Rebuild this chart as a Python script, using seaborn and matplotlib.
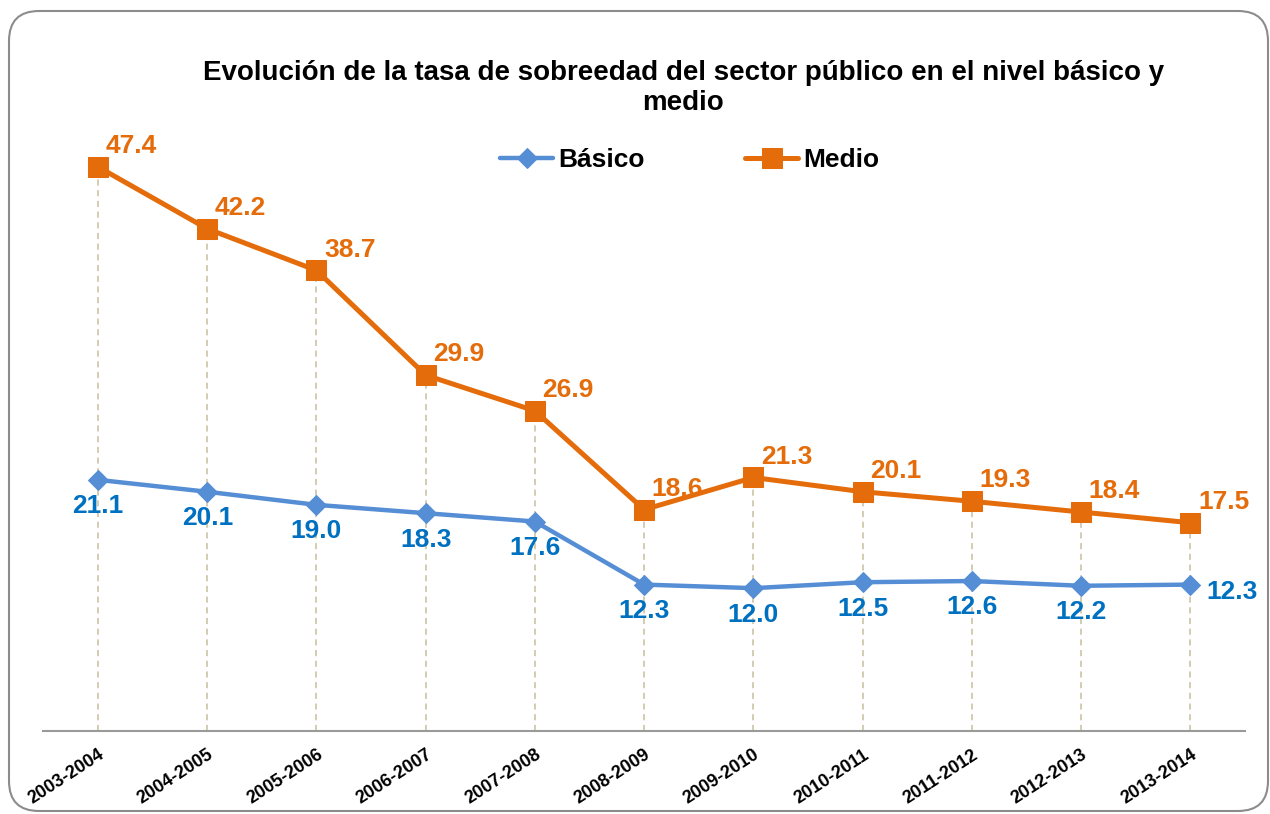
import numpy as np
import pandas as pd
import matplotlib
matplotlib.use('Agg')
import matplotlib.pyplot as plt
import seaborn as sns
from matplotlib.patches import FancyBboxPatch
from matplotlib.transforms import IdentityTransform

# Data
periods = ['2003-2004', '2004-2005', '2005-2006', '2006-2007', '2007-2008', '2008-2009',
           '2009-2010', '2010-2011', '2011-2012', '2012-2013', '2013-2014']
basico = [21.1, 20.1, 19.0, 18.3, 17.6, 12.3, 12.0, 12.5, 12.6, 12.2, 12.3]
medio = [47.4, 42.2, 38.7, 29.9, 26.9, 18.6, 21.3, 20.1, 19.3, 18.4, 17.5]

sns.set_style('white')
plt.rcParams['font.family'] = ['Liberation Sans', 'DejaVu Sans']
plt.rcParams['text.color'] = 'black'
plt.rcParams['xtick.color'] = 'black'

c_bas_line = '#558ED5'
c_bas_text = '#0070C0'
c_med = '#E46C0A'
c_drop = '#C9BF9C'

fig = plt.figure(figsize=(12.7, 8.14), dpi=100)
ax = fig.add_axes([0.0342, 0.102, 0.946, 0.731])

x = np.arange(len(periods))
df = pd.DataFrame({'x': x, 'Básico': basico, 'Medio': medio})

# dashed drop lines from the axis up to the top series
ax.vlines(x, 0, medio, colors=c_drop, linestyles=(0, (4, 3)), lw=1.1, zorder=1)

sns.lineplot(data=df, x='x', y='Básico', ax=ax, color=c_bas_line, lw=3.2,
             marker='D', markersize=10, markeredgecolor=c_bas_line, label='Básico', zorder=3)
sns.lineplot(data=df, x='x', y='Medio', ax=ax, color=c_med, lw=3.6,
             marker='s', markersize=14, markeredgecolor=c_med, label='Medio', zorder=3)

# data labels
lab_size = 19
for i, v in enumerate(medio):
    ax.annotate(f'{v:.1f}', (i, v), xytext=(24, 15), textcoords='offset points',
                ha='center', va='center', color=c_med, fontsize=lab_size, fontweight='bold')
for i, v in enumerate(basico):
    if i == len(basico) - 1:
        ax.annotate(f'{v:.1f}', (i, v), xytext=(30, -5), textcoords='offset points',
                    ha='center', va='center', color=c_bas_text, fontsize=lab_size, fontweight='bold')
    else:
        ax.annotate(f'{v:.1f}', (i, v), xytext=(0, -19), textcoords='offset points',
                    ha='center', va='center', color=c_bas_text, fontsize=lab_size, fontweight='bold')

ax.set_xlim(-0.5, len(periods) - 0.5)
ax.set_ylim(0, 50)
ax.set_yticks([])
ax.set_xticks(x)
ax.set_xticklabels(periods, rotation=33, ha='right', rotation_mode='anchor',
                   fontsize=13, fontweight='bold')
ax.tick_params(axis='x', length=0, pad=11)
ax.set_xlabel('')
ax.set_ylabel('')
for s in ['top', 'right', 'left']:
    ax.spines[s].set_visible(False)
ax.spines['bottom'].set_color('#9A9A9A')
ax.spines['bottom'].set_linewidth(1.5)

ax.legend(loc='center', bbox_to_anchor=(0.538, 0.96), ncol=2, frameon=False,
          prop={'weight': 'bold', 'size': 19}, handlelength=2.0, handletextpad=0.2,
          columnspacing=3.8)

fig.text(0.538, 0.892, 'Evolución de la tasa de sobreedad del sector público en el nivel básico y\nmedio',
         ha='center', va='center', fontsize=20, fontweight='bold', linespacing=1.2)

# rounded chart frame
frame = FancyBboxPatch((9, 3), 1259, 800, boxstyle='round,pad=0,rounding_size=30',
                       transform=IdentityTransform(), fill=False, edgecolor='#8C8C8C', lw=1.5)
fig.add_artist(frame)

plt.savefig('out.png', dpi=100)
